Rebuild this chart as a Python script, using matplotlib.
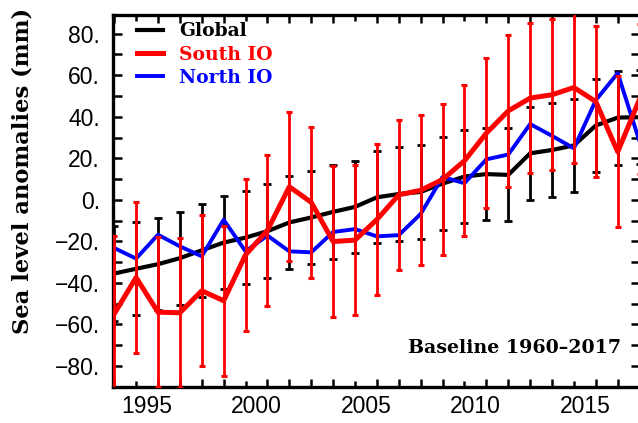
import numpy as np
import matplotlib
matplotlib.use("Agg")
import matplotlib.pyplot as plt

# Annual mean sea level anomalies (mm), plotted at mid-year
years = np.arange(1993, 2018)

global_msl = [-35.5, -33.2, -31.0, -28.1, -24.3, -20.6, -18.2, -15.1, -10.9, -8.5,
              -5.8, -3.4, 1.2, 2.8, 3.8, 7.8, 11.2, 12.4, 12.0, 22.4,
              24.0, 26.2, 35.8, 39.6, 39.8]
global_err = [22.7, 22.4, 22.2, 22.4, 22.5, 22.4, 22.4, 22.6, 22.4, 22.4,
              22.6, 22.3, 22.2, 22.5, 22.5, 22.4, 22.4, 22.3, 22.4, 22.4,
              22.4, 22.4, 22.6, 22.6, 22.6]

south_io = [-55.0, -37.4, -54.1, -54.4, -43.8, -48.6, -26.5, -14.7, 6.3, -1.2,
            -20.1, -19.4, -9.5, 2.4, 4.6, 9.8, 18.8, 32.1, 42.8, 49.0,
            50.6, 54.1, 47.3, 23.1, 48.5]
south_err = [37.5, 36.3, 36.2, 36.0, 36.3, 36.2, 36.5, 36.3, 36.0, 36.4,
             36.4, 36.2, 36.3, 36.2, 36.2, 36.4, 36.3, 36.2, 36.5, 36.1,
             36.3, 36.2, 36.2, 36.3, 36.0]

north_io = [-23.2, -28.3, -16.8, -22.4, -27.2, -9.6, -24.8, -17.2, -24.8, -25.3,
            -15.5, -14.1, -17.6, -17.0, -6.8, 11.0, 8.0, 19.5, 21.8, 36.5,
            30.8, 24.8, 48.0, 61.0, 28.0]

series_names = ["Global", "South IO", "North IO"]
xtick_years = [1995, 2000, 2005, 2010, 2015]
ytick_values = [-80, -60, -40, -20, 0, 20, 40, 60, 80]
baseline_text = "Baseline 1960\u20132017"
ylabel_text = "Sea level anomalies (mm)"

plt.rcParams["font.family"] = ["Liberation Sans", "DejaVu Sans"]
serif_bold = dict(family=["DejaVu Serif"], weight="bold")

x = years + 0.5

fig = plt.figure(figsize=(6.38, 4.23), dpi=100)
ax = fig.add_axes([0.1776, 0.0858, 0.8256, 0.8787])

# Error bars
ax.errorbar(x, global_msl, yerr=global_err, fmt="none", ecolor="black",
            elinewidth=2.0, capsize=2.9, capthick=2.0, zorder=2)
ax.errorbar(x, south_io, yerr=south_err, fmt="none", ecolor="#ff0000",
            elinewidth=2.0, capsize=2.2, capthick=2.2, zorder=5)

# Series lines
ax.plot(x, global_msl, color="black", lw=3.0, zorder=3, label=series_names[0],
        solid_joinstyle="round")
ax.plot(x, north_io, color="#0000ff", lw=2.8, zorder=4, label=series_names[2],
        solid_joinstyle="round")
ax.plot(x, south_io, color="#ff0000", lw=3.6, zorder=6, label=series_names[1],
        solid_joinstyle="round")

ax.set_xlim(1993.46, 2017.52)
ax.set_ylim(-90, 89)

for sp in ax.spines.values():
    sp.set_linewidth(2.4)

# x ticks: mid-year marks, every fifth one short
mid_years = years + 0.5
short_ticks = [v for v in mid_years if int(v - 0.5) % 5 == 4]
long_ticks = [v for v in mid_years if int(v - 0.5) % 5 != 4]
ax.set_xticks(short_ticks)
ax.set_xticks(long_ticks, minor=True)
ax.tick_params(axis="x", which="major", direction="in", length=4, width=1.8,
               top=True, bottom=True, labelbottom=False)
ax.tick_params(axis="x", which="minor", direction="in", length=6, width=1.8,
               top=True, bottom=True)

secx = ax.secondary_xaxis("bottom")
secx.set_xticks(xtick_years)
secx.set_xticklabels([str(v) for v in xtick_years])
secx.tick_params(length=0, pad=6, labelsize=16.5)
secx.spines["bottom"].set_visible(False)

# y ticks
ax.set_yticks(ytick_values)
ax.set_yticklabels([(f"{v}." if v >= 0 else f"\u2212{abs(v)}.") for v in ytick_values])
ax.set_yticks(np.arange(-90, 90, 10), minor=True)
ax.tick_params(axis="y", which="both", direction="in", length=6.5, width=1.8,
               left=True, right=True, labelsize=16.5, pad=9.5)

fig.text(0.036, 0.5965, ylabel_text, rotation=90, ha="center", va="center",
         fontsize=16.3, **serif_bold)

ax.text(0.965, 0.103, baseline_text, transform=ax.transAxes, ha="right",
        va="center", fontsize=13.7, **serif_bold)

handles, labels = ax.get_legend_handles_labels()
order = [labels.index(n) for n in series_names]
leg = ax.legend([handles[i] for i in order], [labels[i] for i in order],
                loc="upper left", bbox_to_anchor=(0.0444, 0.98),
                frameon=False, borderpad=0, borderaxespad=0,
                handlelength=1.42, handletextpad=0.84, labelspacing=0.28,
                labelcolor="linecolor", prop=dict(size=13.5, **serif_bold))

fig.savefig("out.png", dpi=100)
